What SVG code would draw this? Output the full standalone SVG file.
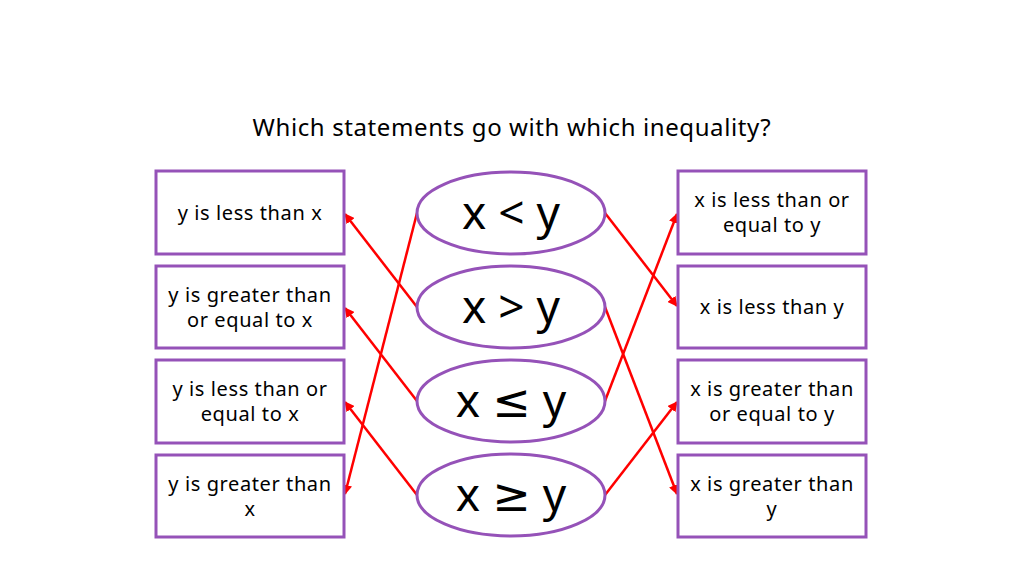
<svg xmlns="http://www.w3.org/2000/svg" width="1024" height="576" viewBox="0 0 1024 576">
<defs>
<style>
.box{fill:#fff;stroke:#9552b8;stroke-width:3}
.ell{fill:#fff;stroke:#9552b8;stroke-width:3}
.t{font-family:"Noto Sans","DejaVu Sans",sans-serif;font-size:20px;letter-spacing:0.6px;fill:#000;text-anchor:middle}
.big{font-family:"Noto Sans","DejaVu Sans",sans-serif;font-size:46px;fill:#000;text-anchor:middle}
.title{font-family:"Noto Sans","DejaVu Sans",sans-serif;font-size:24px;letter-spacing:0.6px;fill:#000;text-anchor:middle}
.c{stroke:#ff0000;stroke-width:2.5;fill:none;marker-end:url(#ah)}
</style>
<marker id="ah" viewBox="0 0 10 10" refX="9" refY="5" markerWidth="4" markerHeight="4" orient="auto" markerUnits="strokeWidth">
<path d="M0,0 L10,5 L0,10 z" fill="#ff0000"/>
</marker>
</defs>
<rect width="1024" height="576" fill="#fff"/>
<text class="title" x="512" y="136">Which statements go with which inequality?</text>

<g id="connectors">
<line class="c" x1="417" y1="213" x2="345" y2="494"/>
<line class="c" x1="417" y1="307" x2="345" y2="214"/>
<line class="c" x1="417" y1="401" x2="345" y2="308"/>
<line class="c" x1="417" y1="495" x2="345" y2="402"/>
<line class="c" x1="605" y1="213" x2="677" y2="306"/>
<line class="c" x1="605" y1="307" x2="677" y2="494"/>
<line class="c" x1="605" y1="401" x2="677" y2="214"/>
<line class="c" x1="605" y1="495" x2="677" y2="402"/>
</g>

<g id="L1"><rect class="box" x="156" y="171" width="188" height="83"/><text class="t" x="250" y="220">y is less than x</text></g>
<g id="L2"><rect class="box" x="156" y="266" width="188" height="82"/><text class="t" x="250" y="302">y is greater than</text><text class="t" x="250" y="327">or equal to x</text></g>
<g id="L3"><rect class="box" x="156" y="360" width="188" height="83"/><text class="t" x="250" y="396">y is less than or</text><text class="t" x="250" y="421">equal to x</text></g>
<g id="L4"><rect class="box" x="156" y="455" width="188" height="82"/><text class="t" x="250" y="491">y is greater than</text><text class="t" x="250" y="516">x</text></g>

<g id="E1"><ellipse class="ell" cx="511" cy="213" rx="94" ry="41"/><text class="big" x="511" y="229">x &lt; y</text></g>
<g id="E2"><ellipse class="ell" cx="511" cy="307" rx="94" ry="41"/><text class="big" x="511" y="323">x &gt; y</text></g>
<g id="E3"><ellipse class="ell" cx="511" cy="401" rx="94" ry="41"/><text class="big" x="511" y="417">x ≤ y</text></g>
<g id="E4"><ellipse class="ell" cx="511" cy="495" rx="94" ry="41"/><text class="big" x="511" y="511">x ≥ y</text></g>

<g id="R1"><rect class="box" x="678" y="171" width="188" height="83"/><text class="t" x="772" y="207">x is less than or</text><text class="t" x="772" y="232">equal to y</text></g>
<g id="R2"><rect class="box" x="678" y="266" width="188" height="82"/><text class="t" x="772" y="314">x is less than y</text></g>
<g id="R3"><rect class="box" x="678" y="360" width="188" height="83"/><text class="t" x="772" y="396">x is greater than</text><text class="t" x="772" y="421">or equal to y</text></g>
<g id="R4"><rect class="box" x="678" y="455" width="188" height="82"/><text class="t" x="772" y="491">x is greater than</text><text class="t" x="772" y="516">y</text></g>
</svg>
